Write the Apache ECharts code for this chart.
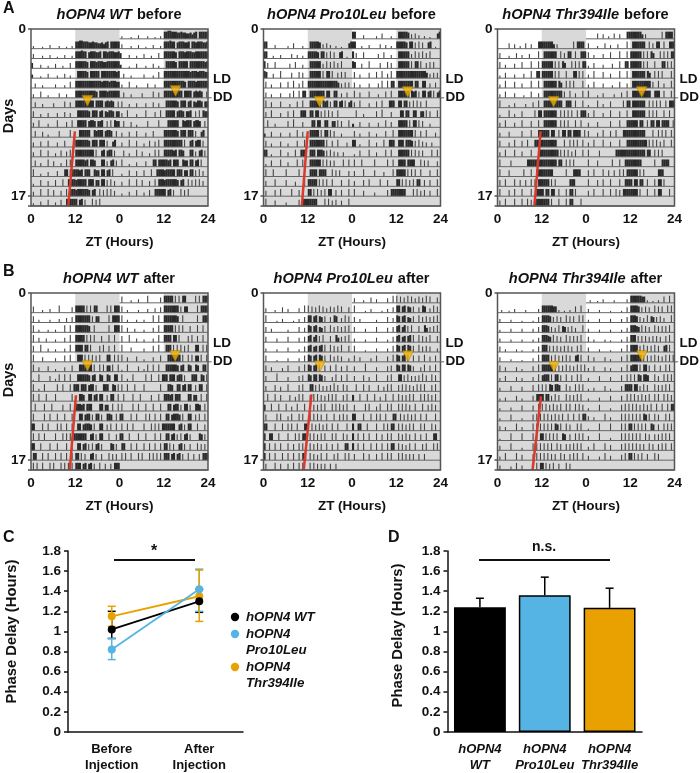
<!DOCTYPE html>
<html>
<head>
<meta charset="utf-8">
<script src="https://cdn.jsdelivr.net/npm/echarts@6/dist/echarts.min.js"></script>
<style>
  html, body { margin: 0; padding: 0; background: #fff; }
  #main { width: 700px; height: 773px; }
</style>
</head>
<body>
<div id="main"></div>
<script>
// actogram days: 48 half hour bins per day, 0 = no activity, 9 = full row height
const actWtBefore = [
  '030000200040 000300020030 889988877877 667578088888',
  '050000300040 002000400030 888988078887 780887888778',
  '600004000300 050003000600 888888708887 888778888888',
  '400002000500 003000500300 088888708888 808888888878',
  '005000300000 040000300700 888888888888 887888788877',
  '040007000300 000500040000 888888888887 088887888888',
  '006000400000 500000700600 888888888808 888078787007',
  '070004000500 005000600500 088888870888 078076887077',
  '050080000400 008000060080 088888078870 778007080877',
  '007000600300 000700000800 008888880087 888078870070',
  '050006000700 005000700000 888888870888 088807006800',
  '050008000700 040070060800 888888888808 007807880700',
  '007004000800 600040080800 888887808870 008806078070',
  '080003000500 006000880888 887808880087 708807808000',
  '030007000600 070008008888 788888088807 708807080600',
  '050008000800 700060080888 788888870780 080708080600',
  '030005000700 040070088888 807807000807 080000000000'
]
const actProBefore = [
  '880000400000 030060000300 088888705060 400300200068',
  '880003000400 000500400300 888887088070 807007800200',
  '806000700000 005007000400 088888805080 708060800000',
  '870005000800 000600070600 088888808088 080060707000',
  '070040000600 070080050800 888888888888 888860506060',
  '060040000500 005080080880 088888888088 008800500600',
  '080060000700 004000700800 088888808780 708807808068',
  '060080000500 070080008880 088088070808 070080000000',
  '008000400000 070090000600 008808800880 077080700080',
  '400060000500 005000800600 088888080880 807000400000',
  '070040000600 040000700080 088888888080 070080000500',
  '880030000800 050008008880 088808887070 806050050000',
  '030070000800 050000800800 088888808080 707000080080',
  '080008000000 800000080080 088880888800 080707000060',
  '060000800000 700005000080 888880808080 080000700080',
  '060000700800 000800070000 880808070808 800700700080',
  '080000600000 400000070888 888880000808 060700600080'
]
const actThrBefore = [
  '000000600500 300600500088 888888505000 000008088880',
  '060000300060 040005000080 088888880080 608800800888',
  '070040000500 070000800080 888888080808 600080808088',
  '030060000400 005000800880 888888080800 080008808080',
  '040080000700 050000800080 088888880860 080808000080',
  '040070000500 003000700050 088888888880 700800500080',
  '080000300500 000400060080 088888888880 088800800080',
  '030000800400 070000008088 088888880080 808080080888',
  '050080000500 080000700080 088888880080 808000800800',
  '050000600000 070000800088 888808800808 808808888008',
  '070000500800 070080008888 888888880000 800808080080',
  '050080000800 060000800088 888888888080 808060800080',
  '080000070000 000088888888 888888880880 080808000000',
  '080000700000 008000800888 888888000000 080008888000',
  '070080000800 700700808088 888808080000 000888000000',
  '080000700800 080000800888 808808800800 080880800000',
  '060080000800 080080708888 888808000800 080880000800'
]
const actWtAfter = [
  '070000300040 000800000060 888880808088 000008080888',
  '070030000030 000400050060 888888880707 700000808888',
  '080030000300 030000800800 888888870080 000000800888',
  '080050004000 030000500800 888880808080 007000800800',
  '070008000400 030000400800 888808808000 070800700800',
  '080000500000 040000700800 088808080807 080008800808',
  '080050000600 030000500070 008888888080 080807708008',
  '020080000060 030800800800 088888870780 087008700880',
  '080030080000 008008000808 880888078807 000888008708',
  '080080008000 080000000080 008870088078 088007088008',
  '008000080008 000007000800 888780888000 088077008008',
  '080000080080 008000800080 008807880708 807008870080',
  '880000800800 008080080080 088078887080 088007080080',
  '080080080000 080008080808 888888007807 088000800070',
  '880008000080 008000080080 088078070807 807000087070',
  '088000800800 080080080080 880807007807 007000807070',
  '080800800080 800080808080 888078078070 080070070888'
]
const actProAfter = [
  '050000300060 040000050080 807060807050 706080700060',
  '080000020040 000020040060 880780760700 608700508070',
  '060040000000 030000060050 870780650700 806070607080',
  '060000040000 060000050060 780680708000 700850607080',
  '040000030000 050000030060 780670780800 807060800070',
  '070000020000 040000040070 870780870700 806070600040',
  '070050000040 070000060080 870780800700 700800600700',
  '060000090000 050000060700 870880870600 050800700800',
  '060000700500 080000070800 088070806060 709070080700',
  '008000800700 007005080800 070808070608 080800070800',
  '700080008000 800500800080 080707080800 080808070800',
  '070000080800 050800080800 080808070080 008007080700',
  '880000800080 080800800088 008070807080 080080000800',
  '800880008000 080008080880 080807080800 080800080700',
  '800800800800 080070080800 080708070080 070080008800',
  '800800800080 080080080880 080706080080 007080008080',
  '070000800700 070080080800 080807070700 700700000000'
]
const actThrAfter = [
  '003000200400 000300000040 888888770300 200300700800',
  '040000030000 020000020060 888870607060 080707008080',
  '030000040000 040000040060 888706050807 606070500080',
  '040000030000 030000030050 888760807060 080707070800',
  '060030000030 020000030060 888070707060 707060070800',
  '050000030000 020000040080 888807080707 080700780800',
  '070050000050 030000060080 888888080707 080706080808',
  '040060000050 040000050080 788808088070 080070080800',
  '040000060000 050000070080 808087088700 080600808080',
  '030040000060 030000060888 808806080700 080707080800',
  '030000040000 060000060080 808070807080 080800808070',
  '030000070000 030000070808 080807080708 008008008088',
  '050040000080 040000080808 080808087080 080700080800',
  '020000080000 080000080808 808080808008 700700808080',
  '050000080000 030000080808 080808008070 070708080800',
  '040080000080 060000070808 080807070080 700708080080',
  '050000040080 050000060808 808070800700 080700000000'
]

// onset fit line and activity markers of each actogram: [hour, row]
const redLines = [
  [[11.9, 10.4], [10.1, 18]],
  [[12.0, 10.4], [10.4, 18]],
  [[11.7, 10.4], [10.0, 18]],
  [[12.2, 10.4], [10.5, 18]],
  [[13.0, 10.3], [10.9, 18]],
  [[11.8, 10.5], [9.5, 18]]
]
const markers = [
  [[15.3, 7.3], [39.2, 6.3]],
  [[15.2, 7.4], [39.1, 6.4]],
  [[15.2, 7.4], [39.1, 6.4]],
  [[15.3, 7.4], [39.1, 6.4]],
  [[15.3, 7.45], [39.2, 6.44]],
  [[15.3, 7.5], [39.2, 6.4]]
]
const panelGenes = ['hOPN4 WT', 'hOPN4 Pro10Leu', 'hOPN4 Thr394Ile']
const ztLabels = ['0', '12', '0', '12', '24']
// shaded blocks: [hour from, hour to, row from, row to]
const shadeBlocks = [[12, 24, 0, 6], [36, 48, 0, 6], [12, 48, 6, 7], [0, 48, 7, 18]]

// panel C
const timeCats = ['Before\nInjection', 'After\nInjection']
const wtDelay = [1.02, 1.3]
const proDelay = [0.82, 1.42]
const thrDelay = [1.15, 1.35]
const wtErr = [[0.93, 1.2], [1.19, 1.42]]
const proErr = [[0.72, 0.93], [1.2, 1.62]]
const thrErr = [[1.05, 1.25], [1.1, 1.61]]

// panel D
const geneCats = ['hOPN4\nWT', 'hOPN4\nPro10Leu', 'hOPN4\nThr394Ile']
const meanDelay = [1.24, 1.36, 1.235]
const meanErrTop = [1.33, 1.54, 1.43]

const BLACK = '#000'
const BLUE = '#56b4e4'
const ORANGE = '#e8a100'
const FONT = '"Liberation Sans", Arial, sans-serif'

const myChart = echarts.init(document.getElementById('main'))

const grid = []
const xAxis = []
const yAxis = []
const series = []
const title = []
const graphic = []

function txt(x, y, text, size, extra, rotation) {
  graphic.push({
    type: 'text',
    x: x,
    y: y,
    rotation: rotation || 0,
    silent: true,
    style: Object.assign({
      text: text,
      fontFamily: FONT,
      fontWeight: 'bold',
      fontSize: size,
      fill: '#111',
      align: 'left',
      verticalAlign: 'middle'
    }, extra || {})
  })
}

function activityPoints(days) {
  const pts = []
  days.forEach((s, d) => {
    const bins = s.replace(/ /g, '')
    for (let i = 0; i < 48; i++) {
      const v = Number(bins[i])
      if (!v) continue
      // lone spikes are drawn thinner than runs of bins
      const lone = bins[i - 1] !== undefined && Number(bins[i - 1]) === 0 && Number(bins[i + 1] || 0) === 0
      pts.push([i / 2, d + 1, v, lone ? 1 : 0]) // double plotted: left half of the next row
      pts.push([24 + i / 2, d, v, lone ? 1 : 0]) // right half of this row
    }
  })
  return pts
}

function baselineSpans() {
  const spans = [[24, 48, 0]]
  for (let r = 1; r < 17; r++) spans.push([0, r === 6 ? 49 : 48, r])
  spans.push([0, 48, 17])
  return spans
}

function addActogram(i, days, left, top, showDays) {
  const size = 177
  grid.push({ left: left, top: top, width: size, height: size, show: true, z: 10, outerBoundsMode: 'none', borderColor: '#555', borderWidth: 1.5, backgroundColor: 'transparent' })
  xAxis.push({
    gridIndex: i, type: 'value', min: 0, max: 48, interval: 12,
    splitLine: { show: false },
    axisLine: { show: false },
    axisTick: { show: false },
    axisLabel: {
      margin: 6, color: '#111', fontFamily: FONT, fontWeight: 'bold', fontSize: 13.5,
      formatter: (v) => ztLabels[v / 12]
    },
    name: 'ZT (Hours)', nameLocation: 'middle', nameGap: 29,
    nameTextStyle: { color: '#111', fontFamily: FONT, fontWeight: 'bold', fontSize: 13.5 }
  })
  yAxis.push({
    gridIndex: i, type: 'value', inverse: true, min: 0, max: 18, interval: 17,
    splitLine: { show: false },
    axisLine: { show: false },
    axisTick: { show: true, length: 3, lineStyle: { color: '#555', width: 1.5 } },
    axisLabel: {
      margin: 5, color: '#111', fontFamily: FONT, fontWeight: 'bold', fontSize: 13.5,
      formatter: (v) => (v === 18 ? '' : String(v))
    }
  })
  // the axis name keeps clear of the tick labels and falls off the page, so it is a plain text here
  if (showDays) txt(9, top + 87, 'Days', 14.5, { align: 'center' }, Math.PI / 2)
  series.push({
    type: 'custom', xAxisIndex: i, yAxisIndex: i, z: 1, silent: true,
    encode: { x: [0, 1], y: [2, 3] },
    data: shadeBlocks,
    renderItem: (p, api) => {
      const a = api.coord([api.value(0), api.value(2)])
      const b = api.coord([api.value(1), api.value(3)])
      return { type: 'rect', shape: { x: a[0], y: a[1], width: b[0] - a[0], height: b[1] - a[1] }, style: { fill: '#d9d9d9' } }
    }
  })
  series.push({
    type: 'custom', xAxisIndex: i, yAxisIndex: i, z: 2, silent: true,
    encode: { x: 0, y: 1 },
    data: activityPoints(days),
    renderItem: (p, api) => {
      const a = api.coord([api.value(0), api.value(1) + 1])
      const w = api.size([0.5, 0])[0]
      const rowH = api.size([0, 1])[1]
      const h = (api.value(2) / 9) * rowH * 0.82
      const lone = api.value(3) === 1
      // a little wider than one bin so that runs of bins close up
      return {
        type: 'rect',
        shape: { x: a[0], y: a[1] - h, width: lone ? 1.1 : w + 0.25, height: h },
        style: { fill: lone ? '#444' : '#2a2a2a' }
      }
    }
  })
  series.push({
    type: 'custom', xAxisIndex: i, yAxisIndex: i, z: 3, silent: true,
    encode: { x: [0, 1], y: 2 },
    data: baselineSpans(),
    renderItem: (p, api) => {
      const a = api.coord([api.value(0), api.value(2) + 1])
      const b = api.coord([api.value(1), api.value(2) + 1])
      return { type: 'line', shape: { x1: a[0], y1: a[1], x2: b[0], y2: b[1] }, style: { stroke: '#666', lineWidth: 1 } }
    }
  })
  series.push({
    type: 'line', xAxisIndex: i, yAxisIndex: i, z: 4, silent: true,
    data: redLines[i], showSymbol: false,
    lineStyle: { color: '#d93a2b', width: 2.5 }
  })
  series.push({
    type: 'scatter', xAxisIndex: i, yAxisIndex: i, z: 5, silent: true,
    data: markers[i], symbol: 'triangle', symbolRotate: 180, symbolSize: 11,
    itemStyle: { color: '#f2b100', borderColor: '#8c6d10', borderWidth: 0.5 }
  })
  txt(left + size + 5, top + 50, 'LD', 13.5)
  txt(left + size + 5, top + 68, 'DD', 13.5)
}

function errorSeries(xi, data, color, z, capOnlyTop) {
  return {
    type: 'custom', xAxisIndex: xi, yAxisIndex: xi, z: z, silent: true,
    encode: { x: 0, y: [1, 2] },
    data: data,
    renderItem: (p, api) => {
      const x = api.value(0)
      const lo = api.coord([x, api.value(1)])
      const hi = api.coord([x, api.value(2)])
      const style = { stroke: color, lineWidth: 1.5 }
      const cap = (pt) => ({ type: 'line', shape: { x1: pt[0] - 4, y1: pt[1], x2: pt[0] + 4, y2: pt[1] }, style: style })
      const children = [
        { type: 'line', shape: { x1: lo[0], y1: lo[1], x2: hi[0], y2: hi[1] }, style: style },
        cap(hi)
      ]
      if (!capOnlyTop) children.push(cap(lo))
      return { type: 'group', children: children }
    }
  }
}

function addDelayAxes(i, cats, left, width, nameGap, namePad, italic) {
  grid.push({ left: left, top: 551, width: width, height: 181, outerBoundsMode: 'none' })
  xAxis.push({
    gridIndex: i, type: 'category', data: cats,
    axisLine: { lineStyle: { color: '#111', width: 1.5 } },
    axisTick: { length: 4, alignWithLabel: false, lineStyle: { color: '#111', width: 1.5 } },
    axisLabel: {
      margin: 10, color: '#111', fontFamily: FONT, fontWeight: 'bold', fontSize: 13, lineHeight: 15.5,
      fontStyle: italic ? 'italic' : 'normal', interval: 0
    }
  })
  yAxis.push({
    gridIndex: i, type: 'value', min: 0, max: 1.8, interval: 0.2,
    splitLine: { show: false },
    axisLine: { show: true, lineStyle: { color: '#111', width: 1.5 } },
    axisTick: { show: true, length: 4, lineStyle: { color: '#111', width: 1.5 } },
    axisLabel: {
      margin: 7, color: '#111', fontFamily: FONT, fontWeight: 'bold', fontSize: 13.5,
      formatter: (v) => String(Number(v.toFixed(1)))
    },
    name: 'Phase Delay (Hours)', nameLocation: 'middle', nameGap: nameGap, nameRotate: 90,
    nameTextStyle: { color: '#111', fontFamily: FONT, fontWeight: 'bold', fontSize: 14.8, padding: [0, 0, 0, namePad] }
  })
}

// actograms
const panelDays = [actWtBefore, actProBefore, actThrBefore, actWtAfter, actProAfter, actThrAfter]
const panelLeft = [31, 263.5, 497.5]
panelDays.forEach((days, i) => {
  const col = i % 3
  const row = i < 3 ? 0 : 1
  addActogram(i, days, panelLeft[col], row === 0 ? 29 : 293, col === 0)
  title.push({
    left: panelLeft[col] + 83, top: row === 0 ? 1 : 265, textAlign: 'center',
    text: '{i|' + panelGenes[col] + '} {b|' + (row === 0 ? 'before' : 'after') + '}',
    textStyle: {
      rich: {
        i: { fontFamily: FONT, fontWeight: 'bold', fontStyle: 'italic', fontSize: 14.6, color: '#111' },
        b: { fontFamily: FONT, fontWeight: 'bold', fontSize: 14.6, color: '#111' }
      }
    }
  })
})

// panel C
addDelayAxes(6, timeCats, 68, 175, 49, 20, false)
const lineSeries = (name, values, color, z) => ({
  name: name, type: 'line', xAxisIndex: 6, yAxisIndex: 6, z: z, silent: true,
  data: values, symbol: 'circle', symbolSize: 8,
  itemStyle: { color: color }, lineStyle: { color: color, width: 1.8 }
})
const errData = (rows) => rows.map((r, i) => [i, r[0], r[1]])
series.push(errorSeries(6, errData(wtErr), BLACK, 3))
series.push(errorSeries(6, errData(proErr), BLUE, 3))
series.push(errorSeries(6, errData(thrErr), ORANGE, 4))
series.push(lineSeries('hOPN4 Thr394Ile', thrDelay, ORANGE, 5))
series.push(lineSeries('hOPN4 WT', wtDelay, BLACK, 6))
series.push(lineSeries('hOPN4 Pro10Leu', proDelay, BLUE, 7))

// panel D
addDelayAxes(7, geneCats, 447.5, 194.5, 42, 12, true)
series.push({
  type: 'bar', xAxisIndex: 7, yAxisIndex: 7, z: 2, silent: true, barWidth: '80%',
  data: meanDelay.map((v, i) => ({
    value: v,
    itemStyle: { color: [BLACK, BLUE, ORANGE][i], borderColor: '#000', borderWidth: 1.5 }
  }))
})
series.push(errorSeries(7, meanDelay.map((v, i) => [i, v, meanErrTop[i]]), BLACK, 1, true))

// panel letters
txt(3, 9, 'A', 16)
txt(3, 272, 'B', 16)
txt(3, 538, 'C', 16)
txt(388, 538, 'D', 16)

// significance bars
const sigLine = (x1, x2, y) => graphic.push({
  type: 'line', silent: true,
  shape: { x1: x1, y1: y, x2: x2, y2: y },
  style: { stroke: '#111', lineWidth: 2 }
})
sigLine(114, 195, 560)
txt(154, 552, '*', 16, { align: 'center' })
sigLine(479, 610, 560)
txt(544, 547, 'n.s.', 14, { align: 'center' })

// legend of panel C, the names wrap over two lines so it is placed by hand
const legendRows = [
  { color: BLACK, y: 617, lines: ['hOPN4 WT'] },
  { color: BLUE, y: 634, lines: ['hOPN4', 'Pro10Leu'] },
  { color: ORANGE, y: 667, lines: ['hOPN4', 'Thr394Ile'] }
]
legendRows.forEach((row) => {
  graphic.push({ type: 'circle', silent: true, shape: { cx: 235, cy: row.y, r: 4.2 }, style: { fill: row.color } })
  row.lines.forEach((t, k) => txt(246, row.y + k * 16.5, t, 13.3, { fontStyle: 'italic' }))
})

myChart.setOption({
  animation: false,
  backgroundColor: '#fff',
  title: title,
  grid: grid,
  xAxis: xAxis,
  yAxis: yAxis,
  series: series,
  graphic: graphic
})
</script>
</body>
</html>
